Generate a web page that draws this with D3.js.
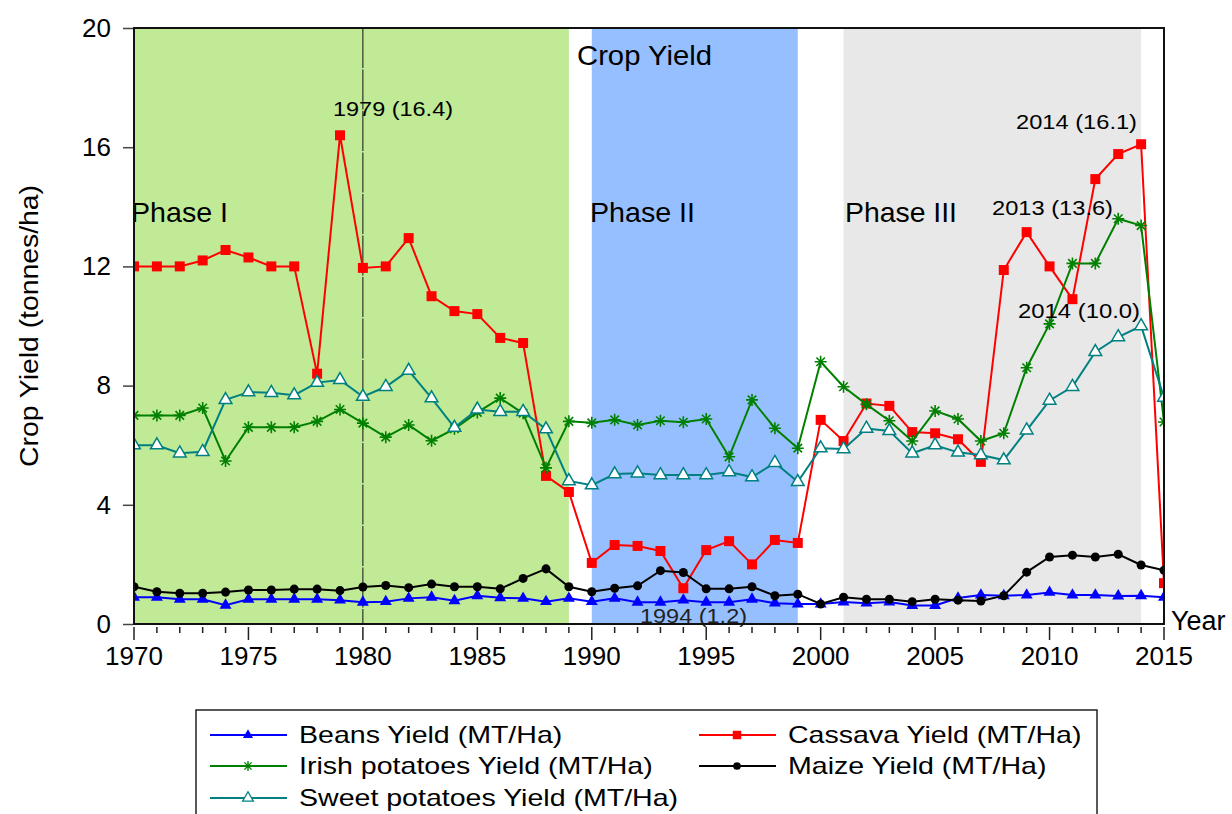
<!DOCTYPE html>
<html>
<head>
<meta charset="utf-8">
<script src="https://cdn.jsdelivr.net/npm/d3@7"></script>
<style>
  html, body { margin: 0; padding: 0; background: #fff; }
  svg { display: block; font-family: "Liberation Sans", Arial, sans-serif; }
</style>
</head>
<body>
<svg id="chart" width="1232" height="814"></svg>
<script>
// Years 1970–2015
const years = d3.range(1970, 2016);

// Yields in tonnes per hectare
const beans = [0.90,0.90,0.83,0.83,0.63,0.83,0.83,0.83,0.83,0.80,
               0.73,0.75,0.86,0.90,0.78,0.95,0.88,0.86,0.75,0.86,
               0.75,0.86,0.73,0.73,0.80,0.73,0.73,0.83,0.70,0.67,
               0.67,0.74,0.70,0.74,0.62,0.62,0.87,0.97,0.95,0.97,
               1.06,0.97,0.97,0.94,0.95,0.90];
const cassava = [12.0,12.0,12.0,12.2,12.55,12.3,12.0,12.0,8.4,16.4,
                 11.95,12.0,12.95,11.0,10.5,10.4,9.6,9.43,4.97,4.43,
                 2.05,2.65,2.62,2.45,1.2,2.48,2.78,2.0,2.82,2.72,
                 6.85,6.14,7.4,7.32,6.44,6.4,6.2,5.44,11.88,13.15,
                 12.0,10.9,14.93,15.77,16.1,1.37];
const irish = [7.0,7.0,7.0,7.25,5.47,6.6,6.6,6.6,6.8,7.2,
               6.74,6.27,6.68,6.15,6.55,7.1,7.58,7.07,5.24,6.8,
               6.75,6.85,6.68,6.82,6.77,6.88,5.61,7.52,6.57,5.9,
               8.8,7.96,7.37,6.82,6.14,7.15,6.88,6.14,6.4,8.6,
               10.07,12.1,12.1,13.6,13.37,6.78];
const maize = [1.25,1.08,1.03,1.03,1.07,1.14,1.14,1.17,1.17,1.12,
               1.24,1.29,1.22,1.34,1.25,1.25,1.18,1.53,1.85,1.25,
               1.08,1.2,1.28,1.79,1.73,1.18,1.18,1.25,0.95,1.0,
               0.67,0.9,0.83,0.83,0.75,0.83,0.8,0.77,0.95,1.74,
               2.25,2.31,2.25,2.34,1.98,1.8];
const sweet = [6.0,6.0,5.73,5.78,7.52,7.78,7.76,7.68,8.1,8.19,
               7.63,7.96,8.5,7.58,6.59,7.2,7.12,7.12,6.54,4.8,
               4.66,5.03,5.06,5.0,5.0,5.0,5.1,4.93,5.41,4.77,
               5.9,5.87,6.56,6.48,5.73,6.0,5.76,5.67,5.5,6.5,
               7.5,7.96,9.13,9.63,10.0,7.6];

// Policy phases (start year, end year, label)
const phaseStart = [1970, 1990, 2001];
const phaseEnd   = [1989, 1999, 2014];
const phaseLabel = ["Phase I", "Phase II", "Phase III"];

// Point annotations: year, value shown
const noteYear  = [1979, 1994, 2014, 2013, 2014];
const noteValue = [16.4, 1.2, 16.1, 13.6, 10.0];

const yTicks = [0, 4, 8, 12, 16, 20];
const xLabelTicks = [1970, 1975, 1980, 1985, 1990, 1995, 2000, 2005, 2010, 2015];

const seriesNames = ["Beans Yield (MT/Ha)", "Cassava Yield (MT/Ha)",
                     "Irish potatoes Yield (MT/Ha)", "Maize Yield (MT/Ha)",
                     "Sweet potatoes Yield (MT/Ha)"];

const series = [
  { name: seriesNames[0], values: beans,   color: "#0000ff", marker: "triFill" },
  { name: seriesNames[1], values: cassava, color: "#ff0000", marker: "square" },
  { name: seriesNames[2], values: irish,   color: "#008000", marker: "star" },
  { name: seriesNames[3], values: maize,   color: "#000000", marker: "circle" },
  { name: seriesNames[4], values: sweet,   color: "#008080", marker: "triOpen" }
];

const svg = d3.select("#chart");
const L = 134, R = 1164, T = 28, B = 624;

const x = d3.scaleLinear().domain([1970, 2015]).range([L, R]);
const y = d3.scaleLinear().domain([0, 20]).range([B, T]);

// Phase background bands
const bandColors = ["#c0ea96", "#96bfff", "#e8e8e8"];
svg.append("g").selectAll("rect").data(phaseStart).join("rect")
  .attr("x", (d) => x(d))
  .attr("y", T)
  .attr("width", (d, i) => x(phaseEnd[i]) - x(d))
  .attr("height", B - T)
  .attr("fill", (d, i) => bandColors[i]);

// Reference line at 1980
svg.append("line")
  .attr("x1", x(1980)).attr("x2", x(1980))
  .attr("y1", T).attr("y2", B)
  .attr("stroke", "#111").attr("stroke-width", 1)
  .attr("stroke-dasharray", "40,1.5");

// Phase labels
const phaseLabelX = [131, 590, 845];
const phaseLabelW = [97, 105, 112];
svg.append("g").selectAll("text").data(phaseLabel).join("text")
  .attr("x", (d, i) => phaseLabelX[i])
  .attr("y", 222)
  .attr("font-size", 28)
  .attr("textLength", (d, i) => phaseLabelW[i])
  .attr("lengthAdjust", "spacingAndGlyphs")
  .text((d) => d);

// Title
svg.append("text")
  .attr("x", 577).attr("y", 65)
  .attr("font-size", 28)
  .attr("textLength", 135)
  .attr("lengthAdjust", "spacingAndGlyphs")
  .text("Crop Yield");

// Clip for series
svg.append("defs").append("clipPath").attr("id", "plotClip")
  .append("rect").attr("x", L).attr("y", T).attr("width", R - L).attr("height", B - T);

const line = d3.line().x((d, i) => x(years[i])).y((d) => y(d));

function starPath(r) {
  let p = "";
  for (let k = 0; k < 4; k++) {
    const a = k * Math.PI / 4;
    const dx = r * Math.cos(a), dy = r * Math.sin(a);
    p += `M${-dx},${-dy}L${dx},${dy}`;
  }
  return p;
}

function drawMarker(g, type, color) {
  if (type === "square") {
    g.append("path").attr("d", d3.symbol(d3.symbolSquare, 100)()).attr("fill", color);
  } else if (type === "circle") {
    g.append("path").attr("d", d3.symbol(d3.symbolCircle, 64)()).attr("fill", color);
  } else if (type === "triFill") {
    g.append("path").attr("d", d3.symbol(d3.symbolTriangle, 62)()).attr("fill", color);
  } else if (type === "triOpen") {
    g.append("path").attr("d", d3.symbol(d3.symbolTriangle, 70)())
      .attr("fill", "#fff").attr("stroke", color).attr("stroke-width", 1.5);
  } else if (type === "star") {
    g.append("path").attr("d", starPath(6)).attr("stroke", color)
      .attr("stroke-width", 1.6).attr("fill", "none");
  }
}

const plot = svg.append("g").attr("clip-path", "url(#plotClip)");
series.forEach((s) => {
  const g = plot.append("g");
  g.append("path").datum(s.values)
    .attr("d", line)
    .attr("fill", "none")
    .attr("stroke", s.color)
    .attr("stroke-width", 2);
  s.values.forEach((v, i) => {
    const m = g.append("g").attr("transform", `translate(${x(years[i])},${y(v)})`);
    drawMarker(m, s.marker, s.color);
  });
});

// Annotations
const noteX = [333, 640, 1016, 992, 1018];
const noteY = [116, 623, 129, 215, 318];
const noteW = [120, 107, 121, 121, 122];
svg.append("g").selectAll("text").data(noteYear).join("text")
  .attr("x", (d, i) => noteX[i])
  .attr("y", (d, i) => noteY[i])
  .attr("font-size", 21)
  .attr("textLength", (d, i) => noteW[i])
  .attr("lengthAdjust", "spacingAndGlyphs")
  .attr("fill", (d, i) => i === 1 ? "#222" : "#000")
  .text((d, i) => `${d} (${noteValue[i].toFixed(1)})`);

// Frame
svg.append("rect")
  .attr("x", L).attr("y", T).attr("width", R - L).attr("height", B - T)
  .attr("fill", "none").attr("stroke", "#111").attr("stroke-width", 2);

// Y axis ticks and labels
const yAxis = d3.axisLeft(y).tickValues(yTicks).tickSize(10).tickPadding(12)
  .tickFormat(d3.format("d"));
const gy = svg.append("g").attr("transform", `translate(${L - 1},0)`).call(yAxis);
gy.select(".domain").remove();
gy.selectAll(".tick line").attr("stroke", "#444").attr("stroke-width", 1.5);
gy.selectAll(".tick text").attr("font-size", 26).attr("fill", "#000")
  .attr("font-family", "Liberation Sans, Arial, sans-serif");

// X axis: minor ticks every year, major every 5 years
const gx = svg.append("g");
gx.selectAll("line").data(years).join("line")
  .attr("x1", (d) => x(d)).attr("x2", (d) => x(d))
  .attr("y1", B + 3)
  .attr("y2", (d) => B + (d % 5 === 0 ? 16 : 9))
  .attr("stroke", "#222").attr("stroke-width", 1.5);
gx.selectAll("text").data(xLabelTicks).join("text")
  .attr("x", (d) => x(d)).attr("y", 665)
  .attr("text-anchor", "middle")
  .attr("font-size", 26)
  .text((d) => d);

svg.append("text").attr("x", 1171).attr("y", 630).attr("font-size", 27).text("Year");

// Y axis title
svg.append("text")
  .attr("transform", "translate(38,326) rotate(-90)")
  .attr("text-anchor", "middle")
  .attr("font-size", 25)
  .attr("textLength", 282)
  .attr("lengthAdjust", "spacingAndGlyphs")
  .text("Crop Yield (tonnes/ha)");

// Legend
const lg = svg.append("g");
lg.append("rect").attr("x", 196).attr("y", 710).attr("width", 901).attr("height", 130)
  .attr("fill", "#fff").attr("stroke", "#222").attr("stroke-width", 1.5);
const colX = [210, 699];
const rowY = [735, 766, 798];
series.forEach((s, i) => {
  const cx = colX[i % 2], cy = rowY[Math.floor(i / 2)];
  const item = lg.append("g");
  item.append("line").attr("x1", cx).attr("x2", cx + 77).attr("y1", cy).attr("y2", cy)
    .attr("stroke", s.color).attr("stroke-width", 2);
  const m = item.append("g").attr("transform", `translate(${cx + 38},${cy}) scale(0.85)`);
  drawMarker(m, s.marker, s.color);
  item.append("text")
    .attr("transform", `translate(${cx + 89},${cy + 8}) scale(1.19,1)`)
    .attr("font-size", 24)
    .text(s.name);
});
</script>
</body>
</html>
